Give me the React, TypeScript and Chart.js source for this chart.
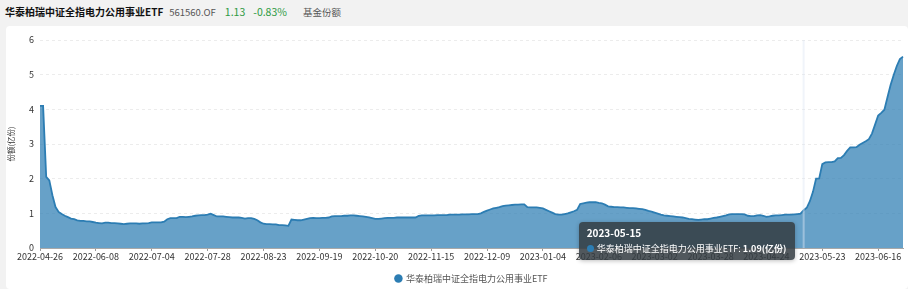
import React, { useEffect, useRef } from 'react';
import { Chart, registerables } from 'chart.js';

Chart.register(...registerables);

const SERIES_NAME = '华泰柏瑞中证全指电力公用事业ETF';
const FUND_CODE = '561560.OF';
const PRICE = '1.13';
const CHANGE = '-0.83%';
const METRIC = '基金份额';
const Y_TITLE = '份额(亿份)';
const UNIT = '(亿份)';

// trading days per month (category labels)
const monthDays: [string, number[]][] = [
  ['2022-04', [26]],
  ['2022-05', [13, 16, 17, 18, 19, 20, 23, 24, 25, 26, 27, 30, 31]],
  ['2022-06', [1, 2, 6, 7, 8, 9, 10, 13, 14, 15, 16, 17, 20, 21, 22, 23, 24, 27, 28, 29, 30]],
  ['2022-07', [1, 4, 5, 6, 7, 8, 11, 12, 13, 14, 15, 18, 19, 20, 21, 22, 25, 26, 27, 28, 29]],
  ['2022-08', [1, 2, 3, 4, 5, 8, 9, 10, 11, 12, 15, 16, 17, 18, 19, 22, 23, 24, 25, 26, 29, 30, 31]],
  ['2022-09', [1, 2, 5, 6, 7, 8, 9, 13, 14, 15, 16, 19, 20, 21, 22, 23, 26, 27, 28, 29, 30]],
  ['2022-10', [10, 11, 12, 13, 14, 17, 18, 19, 20, 21, 24, 25, 26, 27, 28, 31]],
  ['2022-11', [1, 2, 3, 4, 7, 8, 9, 10, 11, 14, 15, 16, 17, 18, 21, 22, 23, 24, 25, 28, 29, 30]],
  ['2022-12', [1, 2, 5, 6, 7, 8, 9, 12, 13, 14, 15, 16, 19, 20, 21, 22, 23, 26, 27, 28, 29, 30, 31]],
  ['2023-01', [3, 4, 5, 6, 9, 10, 11, 12, 13, 16, 17, 18, 19, 20, 30, 31]],
  ['2023-02', [1, 2, 3, 6, 7, 8, 9, 10, 13, 14, 15, 16, 17, 20, 21, 22, 23, 24, 27, 28]],
  ['2023-03', [1, 2, 3, 6, 7, 8, 9, 10, 13, 14, 15, 16, 17, 20, 21, 22, 23, 24, 27, 28, 29, 30, 31]],
  ['2023-04', [3, 4, 6, 7, 10, 11, 12, 13, 14, 17, 18, 19, 20, 21, 24, 25, 26, 27, 28]],
  ['2023-05', [4, 5, 8, 9, 10, 11, 12, 15, 16, 17, 18, 19, 22, 23, 24, 25, 26, 29, 30, 31]],
  ['2023-06', [1, 2, 5, 6, 7, 8, 9, 12, 13, 14, 15, 16, 19, 20, 21, 26, 27, 28, 29, 30]],
];

// fund shares (亿份)
const shares: number[] = [
  4.10, 4.10, 2.05, 1.95, 1.52, 1.18, 1.04, 0.98, 0.93, 0.89, 0.85, 0.83, 0.80, 0.78, 0.78, 0.77, 0.77, 0.75,
  0.73, 0.72, 0.71, 0.73, 0.73, 0.72, 0.72, 0.71, 0.70, 0.69, 0.70, 0.71, 0.71, 0.71, 0.70, 0.71, 0.71, 0.72,
  0.74, 0.74, 0.74, 0.74, 0.76, 0.83, 0.86, 0.86, 0.86, 0.90, 0.90, 0.89, 0.90, 0.91, 0.93, 0.94, 0.95, 0.95,
  0.96, 0.99, 0.95, 0.91, 0.91, 0.91, 0.90, 0.89, 0.88, 0.88, 0.88, 0.87, 0.85, 0.86, 0.86, 0.84, 0.80, 0.74,
  0.70, 0.69, 0.69, 0.68, 0.68, 0.66, 0.66, 0.65, 0.64, 0.82, 0.81, 0.80, 0.80, 0.82, 0.84, 0.86, 0.87, 0.86,
  0.86, 0.87, 0.87, 0.88, 0.91, 0.92, 0.92, 0.92, 0.93, 0.93, 0.94, 0.94, 0.93, 0.92, 0.91, 0.90, 0.88, 0.86,
  0.84, 0.84, 0.85, 0.86, 0.87, 0.87, 0.87, 0.88, 0.88, 0.88, 0.88, 0.88, 0.88, 0.88, 0.93, 0.94, 0.94, 0.94,
  0.94, 0.94, 0.95, 0.95, 0.95, 0.95, 0.96, 0.96, 0.96, 0.96, 0.97, 0.97, 0.97, 0.98, 0.98, 0.98, 1.00, 1.04,
  1.08, 1.11, 1.14, 1.16, 1.18, 1.21, 1.22, 1.23, 1.24, 1.25, 1.25, 1.26, 1.26, 1.18, 1.17, 1.17, 1.17, 1.16,
  1.14, 1.10, 1.06, 1.02, 0.98, 0.96, 0.96, 0.98, 1.00, 1.03, 1.06, 1.10, 1.27, 1.29, 1.31, 1.32, 1.32, 1.32,
  1.30, 1.29, 1.25, 1.20, 1.19, 1.18, 1.18, 1.17, 1.17, 1.16, 1.15, 1.15, 1.14, 1.13, 1.12, 1.10, 1.07, 1.05,
  1.02, 0.99, 0.96, 0.94, 0.93, 0.92, 0.91, 0.90, 0.89, 0.88, 0.86, 0.84, 0.83, 0.82, 0.81, 0.82, 0.83, 0.83,
  0.85, 0.87, 0.88, 0.90, 0.92, 0.94, 0.97, 0.98, 0.98, 0.98, 0.98, 0.97, 0.93, 0.92, 0.92, 0.94, 0.95, 0.93,
  0.90, 0.91, 0.93, 0.94, 0.94, 0.95, 0.96, 0.96, 0.96, 0.97, 0.98, 0.99, 1.09, 1.16, 1.35, 1.62, 2.00, 2.01,
  2.42, 2.47, 2.48, 2.48, 2.50, 2.59, 2.60, 2.68, 2.80, 2.90, 2.90, 2.91, 2.98, 3.03, 3.08, 3.14, 3.30, 3.56,
  3.82, 3.90, 3.99, 4.35, 4.70, 4.99, 5.25, 5.45, 5.52,
];

const Y_MIN = 0;
const Y_MAX = 6;
const Y_STEP = 1;
const LABEL_EVERY = 18;
const HOVER_DATE = '2023-05-15';

const dates: string[] = monthDays.flatMap(([m, days]) =>
  days.map((d) => `${m}-${String(d).padStart(2, '0')}`)
);

const FONT = '"Noto Sans CJK SC", "Noto Sans", sans-serif';
const LINE = '#2c7db3';
const FILL = 'rgba(44,125,179,0.72)';

export default function App() {
  const canvasRef = useRef<HTMLCanvasElement | null>(null);
  const tipRef = useRef<HTMLDivElement | null>(null);

  useEffect(() => {
    const canvas = canvasRef.current!;
    const crosshair = {
      id: 'crosshair',
      afterDatasetsDraw(chart: any) {
        const act = chart.tooltip ? chart.tooltip.getActiveElements() : [];
        if (!act || !act.length) return;
        const x = act[0].element.x;
        const { top, bottom } = chart.chartArea;
        const ctx = chart.ctx;
        ctx.save();
        ctx.strokeStyle = 'rgba(222,231,245,0.45)';
        ctx.lineWidth = 2;
        ctx.beginPath();
        ctx.moveTo(x, top);
        ctx.lineTo(x, bottom);
        ctx.stroke();
        ctx.restore();
      },
    };

    const chart = new Chart(canvas, {
      type: 'line',
      data: {
        labels: dates,
        datasets: [
          {
            label: SERIES_NAME,
            data: shares,
            borderColor: LINE,
            backgroundColor: FILL,
            fill: 'origin',
            pointRadius: 0,
            pointHoverRadius: 0,
            borderWidth: 1.8,
            tension: 0,
          },
        ],
      },
      plugins: [crosshair],
      options: {
        animation: false,
        responsive: false,
        maintainAspectRatio: false,
        events: [],
        layout: { padding: { left: 0, right: 5, top: 15, bottom: 0 } },
        scales: {
          x: {
            type: 'category',
            offset: false,
            grid: { drawOnChartArea: false, drawTicks: true, tickLength: 3, color: '#9a9a9a' },
            border: { display: true, color: '#a8a8a8' },
            ticks: {
              autoSkip: false,
              maxRotation: 0,
              minRotation: 0,
              color: '#333',
              padding: 0,
              font: { size: 9, family: FONT },
            },
            afterBuildTicks: (s: any) => {
              s.ticks = s.ticks.filter((t: any) => t.value % LABEL_EVERY === 0);
            },
            afterFit: (s: any) => {
              s.height = 20;
            },
          },
          y: {
            min: Y_MIN,
            max: Y_MAX,
            ticks: { stepSize: Y_STEP, color: '#333', padding: 6, font: { size: 9, family: FONT } },
            grid: { color: '#ececec', drawTicks: false },
            border: { display: false, dash: [3, 3] },
            title: {
              display: true,
              text: Y_TITLE,
              color: '#333',
              font: { size: 7.5, family: FONT },
              padding: { top: 7, bottom: 0 },
            },
            afterFit: (s: any) => {
              s.width = 40;
            },
          },
        },
        plugins: {
          legend: {
            position: 'bottom',
            fullSize: false,
            labels: {
              usePointStyle: true,
              pointStyle: 'circle',
              boxWidth: 6,
              boxHeight: 6,
              padding: 6,
              color: '#555',
              font: { size: 9, family: FONT },
              generateLabels: (c: any) =>
                (Chart.defaults.plugins.legend.labels.generateLabels as any)(c).map((l: any) => ({
                  ...l,
                  fillStyle: LINE,
                  strokeStyle: LINE,
                  lineWidth: 0,
                })),
            },
          },
          tooltip: {
            enabled: false,
            external: ({ tooltip }: any) => {
              const el = tipRef.current;
              if (!el) return;
              if (!tooltip || tooltip.opacity === 0 || !tooltip.dataPoints || !tooltip.dataPoints.length) {
                el.style.display = 'none';
                return;
              }
              const i = tooltip.dataPoints[0].dataIndex;
              el.innerHTML =
                `<div style="font-weight:bold;font-size:10px;line-height:14px;margin-bottom:2px">${dates[i]}</div>` +
                `<div style="font-size:9px;line-height:14px;white-space:nowrap">` +
                `<span style="display:inline-block;width:7px;height:7px;border-radius:50%;background:${LINE};margin-right:3px;vertical-align:0px"></span>` +
                `${SERIES_NAME}: <b>${shares[i].toFixed(2)}${UNIT}</b></div>`;
              el.style.display = 'block';
              const w = el.offsetWidth;
              el.style.left = `${tooltip.caretX - w - 9}px`;
              el.style.top = `${tooltip.caretY + 12}px`;
            },
          },
        },
      },
    } as any);

    const idx = dates.indexOf(HOVER_DATE);
    if (idx >= 0) {
      const meta = chart.getDatasetMeta(0);
      const pt: any = meta.data[idx];
      chart.tooltip!.setActiveElements([{ datasetIndex: 0, index: idx }], { x: pt.x, y: pt.y });
      chart.update();
    }

    return () => {
      chart.destroy();
    };
  }, []);

  return (
    <div
      style={{
        position: 'absolute',
        left: 0,
        top: 0,
        width: 908,
        height: 289,
        background: '#f2f2f2',
        overflow: 'hidden',
        fontFamily: FONT,
      }}
    >
      <div
        style={{
          position: 'absolute',
          left: 5,
          top: 4,
          whiteSpace: 'nowrap',
          display: 'flex',
          alignItems: 'baseline',
        }}
      >
        <span style={{ fontWeight: 'bold', fontSize: 10, color: '#111' }}>{SERIES_NAME}</span>
        <span style={{ fontSize: 9.5, color: '#555', marginLeft: 6 }}>{FUND_CODE}</span>
        <span style={{ fontSize: 10.5, color: '#2e9a43', marginLeft: 9 }}>{PRICE}</span>
        <span style={{ fontSize: 10.5, color: '#2e9a43', marginLeft: 8 }}>{CHANGE}</span>
        <span style={{ fontSize: 9.5, color: '#555', marginLeft: 16 }}>{METRIC}</span>
      </div>
      <div
        style={{
          position: 'absolute',
          left: 6,
          top: 26,
          width: 902,
          height: 263,
          background: '#fff',
          borderRadius: 4,
        }}
      />
      <div style={{ position: 'absolute', left: 0, top: 25, width: 908, height: 268 }}>
        <canvas ref={canvasRef} width={908} height={268} style={{ display: 'block', width: 908, height: 268 }} />
        <div
          ref={tipRef}
          style={{
            position: 'absolute',
            display: 'none',
            background: 'rgba(52,60,66,0.86)',
            color: '#fff',
            borderRadius: 4,
            padding: '4px 8px 4px 8px',
            fontFamily: FONT,
            pointerEvents: 'none',
            boxShadow: '0 1px 4px rgba(0,0,0,0.25)',
          }}
        />
      </div>
    </div>
  );
}
